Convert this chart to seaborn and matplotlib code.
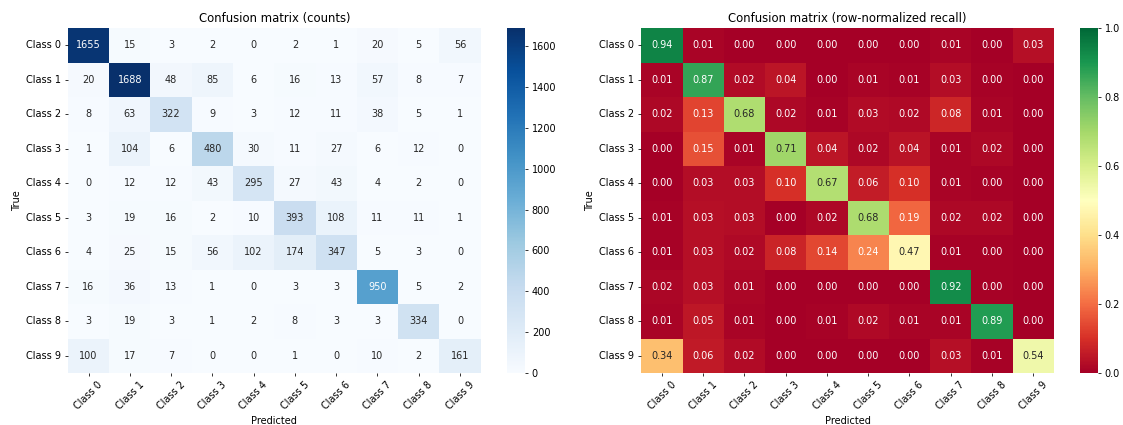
import numpy as np
import pandas as pd
import seaborn as sns
import matplotlib
matplotlib.use("Agg")
import matplotlib.pyplot as plt

classes = [f"Class {i}" for i in range(10)]

# confusion matrix counts, rows = true, cols = predicted
row0 = [1655, 15, 3, 2, 0, 2, 1, 20, 5, 56]
row1 = [20, 1688, 48, 85, 6, 16, 13, 57, 8, 7]
row2 = [8, 63, 322, 9, 3, 12, 11, 38, 5, 1]
row3 = [1, 104, 6, 480, 30, 11, 27, 6, 12, 0]
row4 = [0, 12, 12, 43, 295, 27, 43, 4, 2, 0]
row5 = [3, 19, 16, 2, 10, 393, 108, 11, 11, 1]
row6 = [4, 25, 15, 56, 102, 174, 347, 5, 3, 0]
row7 = [16, 36, 13, 1, 0, 3, 3, 950, 5, 2]
row8 = [3, 19, 3, 1, 2, 8, 3, 3, 334, 0]
row9 = [100, 17, 7, 0, 0, 1, 0, 10, 2, 161]

counts = pd.DataFrame([row0, row1, row2, row3, row4, row5, row6, row7, row8, row9],
                      index=classes, columns=classes)
recall = counts.div(counts.sum(axis=1), axis=0)

fig = plt.figure(figsize=(1123 / 70, 425 / 70), dpi=70)

# left: raw counts
ax1 = fig.add_axes([0.0605, 0.122, 0.3675, 0.812])
cax1 = fig.add_axes([0.4515, 0.122, 0.016, 0.812])
sns.heatmap(counts, annot=True, fmt="d", cmap="Blues", ax=ax1, cbar_ax=cax1)
ax1.set_title("Confusion matrix (counts)")
ax1.set_xlabel("Predicted")
ax1.set_ylabel("True")
ax1.set_xticklabels(classes, rotation=45)
ax1.set_yticklabels(classes, rotation=0)

# right: row-normalized recall
ax2 = fig.add_axes([0.571, 0.122, 0.3675, 0.812])
cax2 = fig.add_axes([0.9617, 0.122, 0.016, 0.812])
sns.heatmap(recall, annot=True, fmt=".2f", cmap="RdYlGn", vmin=0, vmax=1,
            ax=ax2, cbar_ax=cax2)
ax2.set_title("Confusion matrix (row-normalized recall)")
ax2.set_xlabel("Predicted")
ax2.set_ylabel("True")
ax2.set_xticklabels(classes, rotation=45)
ax2.set_yticklabels(classes, rotation=0)

fig.savefig("out.png", dpi=70)
